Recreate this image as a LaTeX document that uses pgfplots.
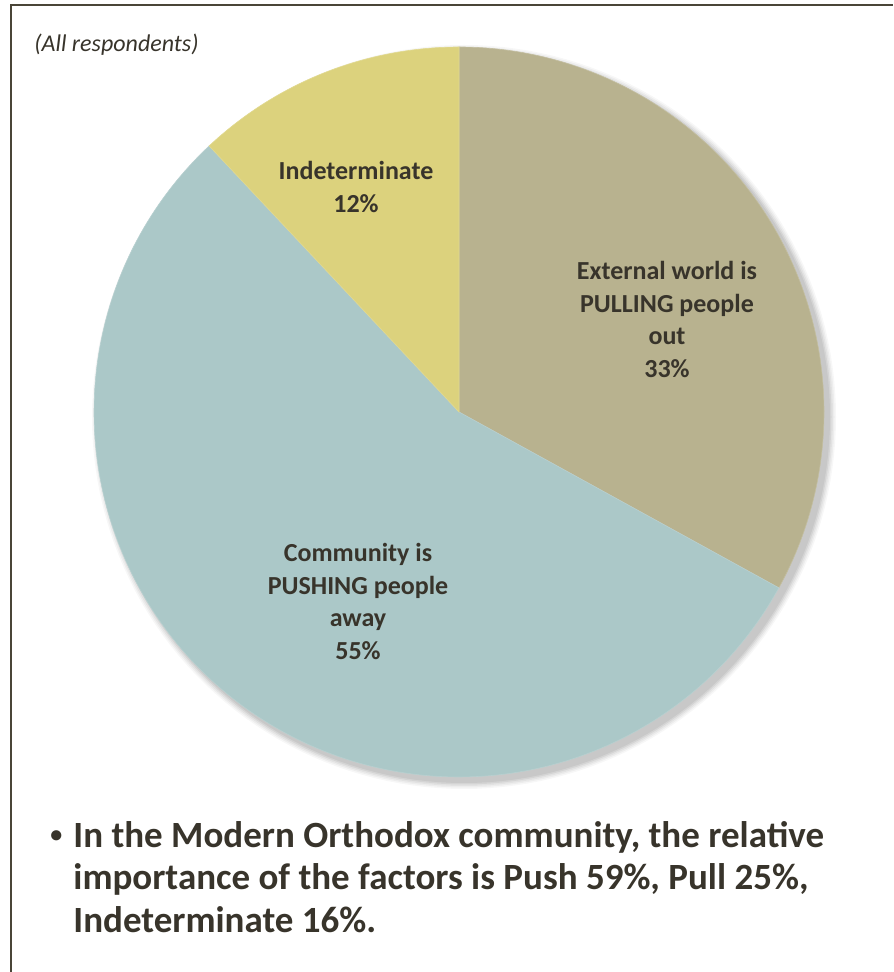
\documentclass[border=0pt]{standalone}
\usepackage{pgfplots}
\pgfplotsset{compat=1.18}
\usepackage{pgfplotstable}
\usepackage{fontspec}
\setmainfont{Carlito}
\definecolor{pullc}{HTML}{B8B28F}
\definecolor{pushc}{HTML}{ABC8C8}
\definecolor{indc}{HTML}{DCD27D}
\definecolor{txt}{HTML}{38342B}
\definecolor{framec}{HTML}{4A4538}

\pgfplotstableread{
label value
Pull 33
Push 55
Indet 12
}\piedata

\begin{document}%
\begin{tikzpicture}
\pgfplotstablegetelem{0}{value}\of\piedata \pgfmathtruncatemacro{\vA}{\pgfplotsretval}
\pgfplotstablegetelem{1}{value}\of\piedata \pgfmathtruncatemacro{\vB}{\pgfplotsretval}
\pgfplotstablegetelem{2}{value}\of\piedata \pgfmathtruncatemacro{\vC}{\pgfplotsretval}
\pgfmathsetmacro{\aA}{90}
\pgfmathsetmacro{\aB}{\aA-3.6*\vA}
\pgfmathsetmacro{\aC}{\aB-3.6*\vB}
\pgfmathsetmacro{\aD}{\aC-3.6*\vC}
\def\cx{459}\def\cy{560}\def\rr{365}
\begin{axis}[x=0.5pt,y=0.5pt,scale only axis,
  xmin=0,xmax=893,ymin=0,ymax=972, hide axis, clip=false,
  xtick=\empty, ytick=\empty]
% frame
\addplot[framec, line width=1pt] coordinates {(10.5,0) (10.5,966.5) (893,966.5)};
% shadow
\addplot[draw=none, fill=black, fill opacity=0.06, domain=0:360, samples=181] ({\cx+5+(\rr+1)*cos(x)},{\cy-5+(\rr+1)*sin(x)}) -- cycle;
\addplot[draw=none, fill=black, fill opacity=0.06, domain=0:360, samples=181] ({\cx+5+(\rr+2.5)*cos(x)},{\cy-5+(\rr+2.5)*sin(x)}) -- cycle;
\addplot[draw=none, fill=black, fill opacity=0.05, domain=0:360, samples=181] ({\cx+5+(\rr+4)*cos(x)},{\cy-5+(\rr+4)*sin(x)}) -- cycle;
\addplot[draw=none, fill=black, fill opacity=0.04, domain=0:360, samples=181] ({\cx+5+(\rr+5.5)*cos(x)},{\cy-5+(\rr+5.5)*sin(x)}) -- cycle;
\addplot[draw=none, fill=black, fill opacity=0.03, domain=0:360, samples=181] ({\cx+5+(\rr+7)*cos(x)},{\cy-5+(\rr+7)*sin(x)}) -- cycle;
% slices
\addplot[fill=pullc, draw=pullc!85!white, line width=0.3pt, domain=\aB:\aA, samples=120] ({\cx+\rr*cos(x)},{\cy+\rr*sin(x)}) -- (\cx,\cy) -- cycle;
\addplot[fill=pushc, draw=pushc!85!white, line width=0.3pt, domain=\aC:\aB, samples=180] ({\cx+\rr*cos(x)},{\cy+\rr*sin(x)}) -- (\cx,\cy) -- cycle;
\addplot[fill=indc, draw=indc!85!white, line width=0.3pt, domain=\aD:\aC, samples=60] ({\cx+\rr*cos(x)},{\cy+\rr*sin(x)}) -- (\cx,\cy) -- cycle;
% labels
\node[txt, align=center, font={\fontsize{13pt}{16.2pt}\selectfont\bfseries}] at (667,652.5)
  {External world is\\PULLING people\\out\\\vA\%};
\node[txt, align=center, font={\fontsize{13pt}{16.2pt}\selectfont\bfseries}] at (358,370.5)
  {Community is\\PUSHING people\\away\\\vB\%};
\node[txt, align=center, font={\fontsize{13pt}{16.2pt}\selectfont\bfseries}] at (356,785)
  {Indeterminate\\\vC\%};
\node[txt, anchor=base west, inner sep=0pt, font={\fontsize{12pt}{14pt}\selectfont\itshape}] at (34,920) {(All respondents)};
% bottom text
\node[txt, anchor=base west, inner sep=0pt, font={\fontsize{12pt}{14pt}\selectfont\bfseries}] at (50,129) {•};
\node[txt, anchor=base west, inner sep=0pt, font={\fontsize{18.5pt}{21pt}\selectfont\bfseries}] at (73,124) {In the Modern Orthodox community, the relative};
\node[txt, anchor=base west, inner sep=0pt, font={\fontsize{18.5pt}{21pt}\selectfont\bfseries}] at (73,82) {importance of the factors is Push 59\%, Pull 25\%,};
\node[txt, anchor=base west, inner sep=0pt, font={\fontsize{18.5pt}{21pt}\selectfont\bfseries}] at (73,39) {Indeterminate 16\%.};
\end{axis}
\pgfresetboundingbox
\useasboundingbox (current axis.south west) rectangle (current axis.north east);
\end{tikzpicture}%
\end{document}
